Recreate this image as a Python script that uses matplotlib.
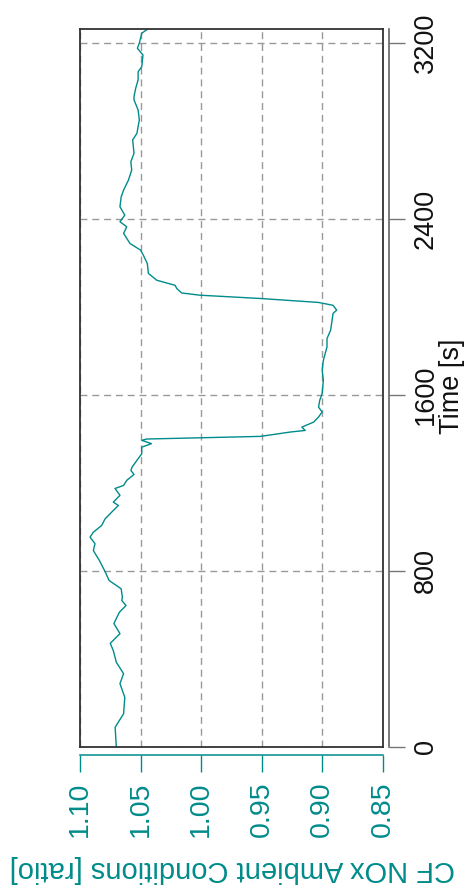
import matplotlib
matplotlib.use("Agg")
import matplotlib.pyplot as plt

plt.rcParams['font.family'] = ['Liberation Sans', 'DejaVu Sans']

# Data (time in s, CF NOx ambient ratio)
time_s = [0, 88, 150, 224, 287, 332, 384, 437, 470, 514, 560, 611, 642, 665,
          680, 718, 756, 793, 847, 892, 923, 953, 975, 1006, 1036, 1074, 1097,
          1112, 1143, 1174, 1188, 1211, 1238, 1256, 1271, 1302, 1332, 1362,
          1378, 1393, 1399, 1411, 1431, 1438, 1453, 1476, 1499, 1522, 1544,
          1575, 1606, 1666, 1712, 1757, 1818, 1856, 1894, 1970, 1985, 2007,
          2020, 2038, 2053, 2063, 2083, 2098, 2121, 2152, 2197, 2235, 2258,
          2288, 2334, 2364, 2387, 2417, 2455, 2500, 2531, 2576, 2622, 2660,
          2698, 2759, 2789, 2850, 2895, 2941, 2956, 2994, 3032, 3069, 3092,
          3145, 3176, 3199, 3244, 3262]
cf_ratio = [1.070, 1.071, 1.064, 1.063, 1.067, 1.064, 1.070, 1.0725, 1.075,
            1.067, 1.072, 1.0675, 1.062, 1.0655, 1.065, 1.066, 1.076, 1.079,
            1.084, 1.089, 1.0876, 1.0917, 1.089, 1.0821, 1.0793, 1.0725,
            1.0683, 1.0725, 1.067, 1.0711, 1.064, 1.0614, 1.0554, 1.058,
            1.057, 1.053, 1.049, 1.049, 1.041, 1.049, 1.045, 0.951, 0.926,
            0.914, 0.9168, 0.907, 0.903, 0.900, 0.903, 0.902, 0.900, 0.899,
            0.900, 0.899, 0.896, 0.896, 0.893, 0.891, 0.888, 0.891, 0.903,
            0.951, 1.001, 1.016, 1.020, 1.0215, 1.0366, 1.0435, 1.0444,
            1.0477, 1.050, 1.0587, 1.064, 1.0614, 1.067, 1.063, 1.067, 1.066,
            1.064, 1.060, 1.0573, 1.058, 1.0554, 1.0565, 1.053, 1.051, 1.052,
            1.0554, 1.0554, 1.054, 1.052, 1.052, 1.049, 1.048, 1.0526, 1.051,
            1.049, 1.0444]

time_ticks = [0, 800, 1600, 2400, 3200]
cf_ticks = [1.10, 1.05, 1.00, 0.95, 0.90, 0.85]
cf_tick_labels = ["1.10", "1.05", "1.00", "0.95", "0.90", "0.85"]

TEAL = "#008B8B"
W, H = 474, 896
fig = plt.figure(figsize=(W / 100, H / 100), dpi=100)
rect = [80 / W, 1 - 746.7 / H, (382.7 - 80) / W, (746.7 - 29.3) / H]

ax = fig.add_axes(rect)
ax.plot(cf_ratio, time_s, color=TEAL, lw=1.0)
ax.set_xlim(1.10, 0.85)
ax.set_ylim(0, 3262)
ax.set_xticks(cf_ticks)
ax.set_yticks(time_ticks)
ax.tick_params(length=0, labelbottom=False, labelleft=False)
ax.grid(True, color="#999999", lw=1.0, linestyle=(0, (5, 3.5)))
for s in ax.spines.values():
    s.set_color("#333333")
    s.set_linewidth(1.3)

# Right-hand time axis (detached)
axr = fig.add_axes(rect, sharey=ax)
axr.patch.set_visible(False)
for k in ["left", "top", "bottom"]:
    axr.spines[k].set_visible(False)
axr.spines["right"].set_position(("outward", 4.5))
axr.spines["right"].set_color("#555555")
axr.spines["right"].set_linewidth(1.1)
axr.set_xticks([])
axr.yaxis.tick_right()
axr.set_yticks(time_ticks)
axr.set_yticklabels([str(t) for t in time_ticks])
axr.tick_params(axis="y", direction="out", length=11.5, width=1.0,
                color="#777777", labelsize=19.5, labelcolor="#111111",
                pad=5.5, labelrotation=90)
for lab in axr.get_yticklabels():
    lab.set_va("center")
    lab.set_ha("left")

# Bottom CF axis (detached, teal)
axb = fig.add_axes(rect, sharex=ax)
axb.patch.set_visible(False)
for k in ["left", "top", "right"]:
    axb.spines[k].set_visible(False)
axb.spines["bottom"].set_position(("outward", 6))
axb.spines["bottom"].set_color(TEAL)
axb.spines["bottom"].set_linewidth(1.1)
axb.set_yticks([])
axb.set_xticks(cf_ticks)
axb.set_xticklabels(cf_tick_labels)
axb.tick_params(axis="x", direction="out", length=12, width=1.0,
                color=TEAL, labelsize=20.5, labelcolor=TEAL, pad=7,
                labelrotation=90)

fig.text(452 / W, 1 - 386 / H, "Time [s]", rotation=90, ha="center",
         va="center", fontsize=19.5, color="#111111")
fig.text(232 / W, 1 - 869 / H, "CF NOx Ambient Conditions [ratio]",
         rotation=180, ha="center", va="center", fontsize=21, color=TEAL)

fig.savefig("out.png", dpi=100)
